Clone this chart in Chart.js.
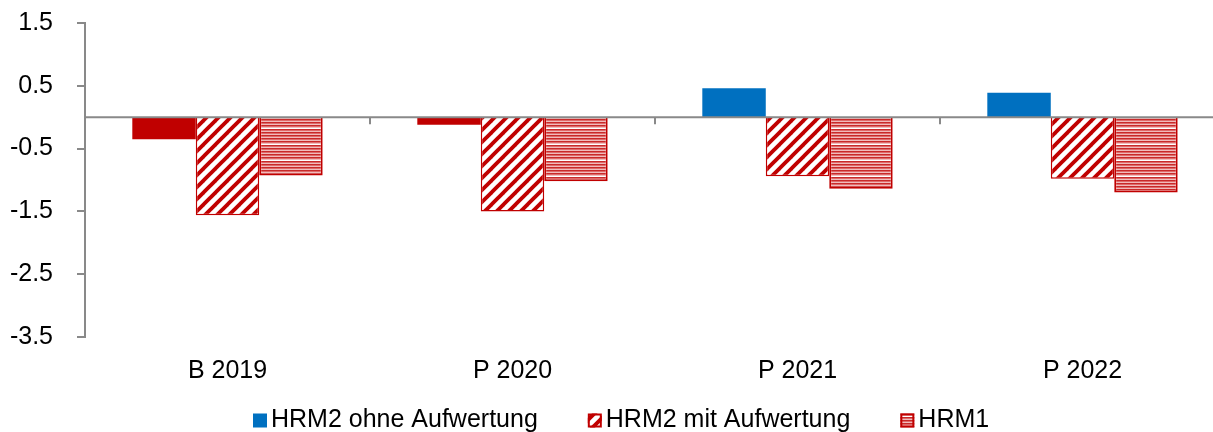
<!DOCTYPE html>
<html>
<head>
<meta charset="utf-8">
<script src="https://cdn.jsdelivr.net/npm/chart.js@4/dist/chart.umd.min.js"></script>
<style>
  html, body { margin: 0; padding: 0; background: #fff; overflow: hidden; }
  #wrap { width: 1230px; height: 432px; }
</style>
</head>
<body>
<div id="wrap"><canvas id="c" width="1230" height="432"></canvas></div>
<script>
// ---- data ----
const categories = ['B 2019', 'P 2020', 'P 2021', 'P 2022'];
const seriesNames = ['HRM2 ohne Aufwertung', 'HRM2 mit Aufwertung', 'HRM1'];
const hrm2Ohne = [-0.35, -0.12, 0.46, 0.39];
const hrm2Mit = [-1.56, -1.50, -0.94, -0.98];
const hrm1 = [-0.93, -1.02, -1.14, -1.20];
const yTickValues = [-3.5, -2.5, -1.5, -0.5, 0.5, 1.5];

// ---- styles ----
const RED = '#C00000';
const BLUE = '#0070C0';
const AXIS = '#898989';
const FONT = "'Liberation Sans', Arial, sans-serif";
const FS = 25;

function makeDiag() {
  const s = 12;
  const c = document.createElement('canvas');
  c.width = s; c.height = s;
  const g = c.getContext('2d');
  g.fillStyle = '#fff'; g.fillRect(0, 0, s, s);
  g.strokeStyle = RED; g.lineWidth = 3.8; g.lineCap = 'square';
  for (let k = -1; k <= 1; k++) {
    g.beginPath();
    g.moveTo(k * s - 2, s + 2);
    g.lineTo(k * s + s + 2, -2);
    g.stroke();
  }
  return g.createPattern(c, 'repeat');
}
function makeStripes() {
  const h = 16;
  const c = document.createElement('canvas');
  c.width = 4; c.height = h;
  const g = c.getContext('2d');
  const cyc = ['#c82a2a', '#df6a6a', '#f0bcbc'];
  for (let r = 0; r < h; r++) {
    g.fillStyle = r === 0 ? '#ffffff' : cyc[(r - 1) % 3];
    g.fillRect(0, r, 4, 1);
  }
  return g.createPattern(c, 'repeat');
}
const diagPattern = makeDiag();
const stripePattern = makeStripes();

const zeroAndSeparators = {
  id: 'zeroAndSeparators',
  afterDatasetsDraw(chart) {
    const { ctx, chartArea, scales } = chart;
    const y0 = scales.y.getPixelForValue(0);
    ctx.save();
    ctx.strokeStyle = AXIS;
    ctx.lineWidth = 2;
    ctx.beginPath();
    ctx.moveTo(chartArea.left, y0);
    ctx.lineTo(chartArea.right, y0);
    ctx.stroke();
    const xs = scales.x;
    for (let i = 1; i < categories.length; i++) {
      const x = Math.round((xs.getPixelForTick(i - 1) + xs.getPixelForTick(i)) / 2);
      ctx.beginPath();
      ctx.moveTo(x, y0);
      ctx.lineTo(x, y0 + 7);
      ctx.stroke();
    }
    ctx.restore();
  }
};

const customLegend = {
  id: 'customLegend',
  afterDraw(chart) {
    const { ctx } = chart;
    const box = 14, gapText = 4, gapItem = 50;
    const y = 420.5;
    ctx.save();
    ctx.font = FS + 'px ' + FONT;
    ctx.textBaseline = 'middle';
    const items = chart.data.datasets.map(ds => ({ text: ds.label, fill: ds.legendFill, border: ds.legendBorder }));
    const widths = items.map(it => box + gapText + ctx.measureText(it.text).width);
    const total = widths.reduce((a, b) => a + b, 0) + gapItem * (items.length - 1);
    let x = Math.round(chart.width / 2 + 6 - total / 2);
    items.forEach((it, i) => {
      ctx.fillStyle = it.fill;
      ctx.fillRect(x, y - box / 2, box, box);
      if (it.border) {
        ctx.strokeStyle = it.border; ctx.lineWidth = 2;
        ctx.strokeRect(x + 1, y - box / 2 + 1, box - 2, box - 2);
      }
      ctx.fillStyle = '#000';
      ctx.fillText(it.text, x + box + gapText, y);
      x += widths[i] + gapItem;
    });
    ctx.restore();
  }
};

new Chart(document.getElementById('c'), {
  type: 'bar',
  data: {
    labels: categories,
    datasets: [
      {
        label: seriesNames[0],
        data: hrm2Ohne,
        backgroundColor: (c) => (c.raw >= 0 ? BLUE : RED),
        borderWidth: 0,
        legendFill: BLUE
      },
      {
        label: seriesNames[1],
        data: hrm2Mit,
        backgroundColor: diagPattern,
        borderColor: RED,
        borderWidth: 1.5,
        legendFill: diagPattern,
        legendBorder: RED
      },
      {
        label: seriesNames[2],
        data: hrm1,
        backgroundColor: stripePattern,
        borderColor: RED,
        borderWidth: 2,
        legendFill: stripePattern,
        legendBorder: RED
      }
    ]
  },
  options: {
    responsive: false,
    animation: false,
    devicePixelRatio: 1,
    layout: { padding: { top: 23, left: 0, right: 5, bottom: 40 } },
    datasets: { bar: { barPercentage: 1.0, categoryPercentage: 0.668 } },
    plugins: { legend: { display: false }, tooltip: { enabled: false } },
    scales: {
      x: {
        grid: { display: false, drawTicks: false },
        border: { display: false },
        ticks: { color: '#000', font: { family: FONT, size: FS }, padding: 19, maxRotation: 0 },
        afterFit(scale) { scale.height = 55; scale.paddingLeft = 0; scale.paddingRight = 0; }
      },
      y: {
        min: -3.5,
        max: 1.5,
        afterBuildTicks(scale) { scale.ticks = yTickValues.map(v => ({ value: v })); },
        grid: { drawOnChartArea: false, drawTicks: true, tickLength: 8, color: AXIS, lineWidth: 2 },
        border: { display: true, color: AXIS, width: 2 },
        ticks: {
          color: '#000',
          font: { family: FONT, size: FS },
          padding: 24,
          callback: (v) => Number(v).toFixed(1)
        },
        afterFit(scale) { scale.width = 85; scale.paddingTop = 0; scale.paddingBottom = 0; }
      }
    }
  },
  plugins: [zeroAndSeparators, customLegend]
});
</script>
</body>
</html>
